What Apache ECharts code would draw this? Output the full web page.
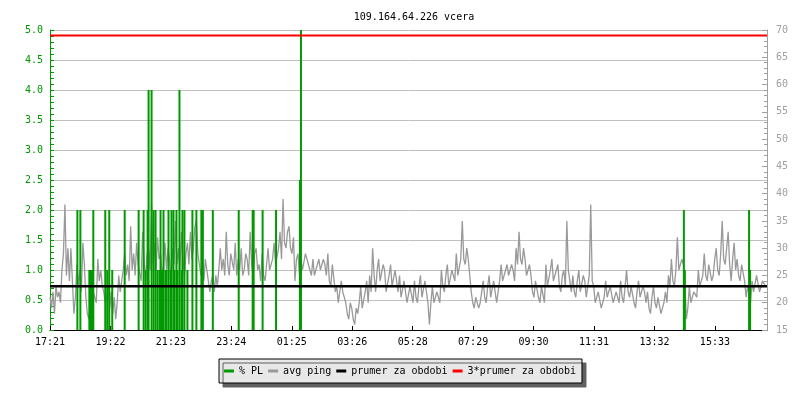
<!DOCTYPE html>
<html>
<head>
<meta charset="utf-8">
<script src="https://cdn.jsdelivr.net/npm/echarts@6/dist/echarts.min.js"></script>
<style>html,body{margin:0;padding:0;background:#fff}#c{width:800px;height:400px}</style>
</head>
<body>
<div id="c"></div>
<script>
const chartTitle = '109.164.64.226 vcera';
const timeLabels = ['17:21','19:22','21:23','23:24','01:25','03:26','05:28','07:29','09:30','11:31','13:32','15:33'];
const tickStepMin = 121.4;
const spanMin = 1440;
const pingStepMin = 3;
const avgPing = [
  21,19,22,18, 23,21,22,20, 26,29, 38,25,30,24, 30,24, 18,21, 27,23,26,22, 31,27,
  21,18,17,20,19,22, 22,20, 28,24,26,23, 22,20,21,23, 19,22,18,21,17,20, 25,22,24,26,
  29,25,27,24, 34,26,29,25,31,27, 27,24,33,28,24,29,30,26, 38,27,31,26,32,28,
  29,25,27,31,26,30,28,24,30,27, 35,27,30,26,33,28,25,29,31,27, 33,28,30,34,35,29,
  29,25,27,24,28,26, 26,22,24,25,22,25,23,26, 30,26,28,25,33,27,25,29,29,26,
  31,25,28,26,30,25,26,29, 28,25,33,27,25,29,30,26,27,24, 29,25,24,27,30,26,26,28,
  31,27,27,30,33,28,39,31,30,33, 34,30,29,32, 24,28,29,25, 28,26,26,29,29,27,27,25,
  28,25,25,27,28,26,26,28,27,25, 29,24,23,27,27,22, 23,20,20,24,22,21,
  20,18,17,20,19,17,16,19,18,20, 23,19,19,22,24,20, 25,22,30,25,22,26,28,24,24,27,
  26,22,22,25,27,23,23,26,26,22, 25,21,21,24,24,20,20,23, 23,20,
  24,21,20,23,25,21,21,24,24,20,16,20, 23,20,20,22,22,20, 26,23,22,25,27,23,23,26,26,24,
  29,25,25,28, 35,28,27,30, 28,25, 22,20,19,21,21,19,20,22,
  24,21,20,23,25,21,21,24,24,20,22,24, 27,24,24,26,27,25,25,27,26,24,
  30,27,33,28,27,30, 28,25,25,27, 25,22,21,24,24,21,20,23,23,20,
  27,23,23,26,28,24,24,26,27,23,22,25,26,23, 35,26,24,22,
  25,22,21,24,26,22,22,25,24,21,23,25, 38,24,
  23,20,20,22,22,19,19,21,24,21,21,23,23,20,20,22,22,20,
  24,21,20,23,26,22,21,23,23,20,19,22,24,21,21,23,22,20,
  22,19,18,21,23,20,19,21,21,18,18,20,22,20,
  25,23,28,24,23,26,32,26,26,28,27,24, 17,19, 23,20,20,22,22,21,
  26,23,23,25,29,25,24,27,27,24,25,28,
  30,26,25,29,35,28,27,30,33,27,24,28,31,26, 28,25,24,27,27,24, 21,23,23,20,
  24,22,22,25,25,22,22,24,24,23
];
const plMinutes = [55,61,79,81,83,85,87,111,115,119,125,150,178,188,192,196,198,204,208,212,
  216,220,222,224,226,228,232,234,238,242,244,248,250,254,256,260,264,266,270,276,
  286,294,304,307,327,379,407,409,427,454,502,504,1273,1275,1404,1406];
const plValues = [2,2,1,1,1,1,2,2,1,2,1,2,2,2,1,2,4,4,2,2,
  1,1,2,1,1,2,1,1,2,1,2,2,1,2,1,4,1,2,2,1,
  2,2,2,2,2,2,2,2,2,2,2.5,5,2,1,2,1];
const meanPing = 23.0;
const legendNames = ['% PL','avg ping','prumer za obdobi','3*prumer za obdobi'];

const FONT = 'DejaVu Sans Mono';
const pingData = avgPing.map((v, i) => [i * pingStepMin, v]);
const plData = plMinutes.map((m, i) => [m, plValues[i]]);

const chart = echarts.init(document.getElementById('c'), null, {renderer: 'canvas'});
chart.setOption({
  backgroundColor: '#ffffff',
  animation: false,
  title: {
    text: chartTitle, left: 409, top: 7, textAlign: 'center',
    textStyle: {fontFamily: FONT, fontSize: 10, fontWeight: 'normal', color: '#000'}
  },
  legend: {
    data: legendNames.map(n => ({name: n, icon: 'rect'})),
    left: 'center', top: 359, itemWidth: 10, itemHeight: 3, itemGap: 5,
    padding: [6, 6, 6, 5],
    backgroundColor: '#e8e8e8', borderColor: '#000', borderWidth: 1,
    shadowColor: '#606060', shadowBlur: 0, shadowOffsetX: 4, shadowOffsetY: 4,
    textStyle: {fontFamily: FONT, fontSize: 10, color: '#000', lineHeight: 12},
    selectedMode: false
  },
  grid: {left: 50, right: 33, top: 30, bottom: 70},
  xAxis: {
    type: 'value', min: 0, max: spanMin, interval: tickStepMin,
    axisLine: {show: true, lineStyle: {color: '#000', width: 1}},
    axisTick: {show: true, inside: true, length: 4, lineStyle: {color: '#000'}},
    splitLine: {show: false},
    axisLabel: {
      fontFamily: FONT, fontSize: 10, color: '#000', margin: 7, showMaxLabel: false,
      formatter: v => {
        const idx = Math.round(v / tickStepMin);
        if (Math.abs(v - idx * tickStepMin) < 0.5 && idx < timeLabels.length) return timeLabels[idx];
        return '';
      }
    }
  },
  yAxis: [{
    type: 'value', min: 0, max: 5, interval: 0.5, position: 'left',
    axisLine: {show: true, lineStyle: {color: '#009900'}},
    axisTick: {show: true, inside: true, length: 4, lineStyle: {color: '#009900'}},
    minorTick: {show: true, splitNumber: 5, length: 4, lineStyle: {color: '#009900'}},
    splitLine: {show: true, lineStyle: {color: '#c0c0c0', width: 1}},
    axisLabel: {fontFamily: FONT, fontSize: 10, color: '#009900', margin: 7, formatter: v => v.toFixed(1)}
  }, {
    type: 'value', min: 15, max: 70, interval: 5, position: 'right',
    axisLine: {show: true, lineStyle: {color: '#a0a0a0'}},
    axisTick: {show: true, inside: true, length: 5, lineStyle: {color: '#a0a0a0'}},
    minorTick: {show: true, splitNumber: 5, length: 3, lineStyle: {color: '#a0a0a0'}},
    splitLine: {show: false},
    axisLabel: {fontFamily: FONT, fontSize: 10, color: '#a0a0a0', margin: 9}
  }],
  series: [{
    name: 'avg ping', type: 'line', yAxisIndex: 1, data: pingData,
    showSymbol: false, symbol: 'none', z: 2,
    lineStyle: {color: '#999999', width: 1.3}, itemStyle: {color: '#999999'}
  }, {
    name: '% PL', type: 'bar', yAxisIndex: 0, data: plData, barWidth: 2, z: 3,
    itemStyle: {color: '#009900'}
  }, {
    name: 'prumer za obdobi', type: 'line', yAxisIndex: 1, z: 4,
    data: [[0, meanPing], [spanMin, meanPing]], showSymbol: false, symbol: 'none',
    lineStyle: {color: '#000', width: 2.5}, itemStyle: {color: '#000'}
  }, {
    name: '3*prumer za obdobi', type: 'line', yAxisIndex: 1, z: 4,
    data: [[0, 3 * meanPing], [spanMin, 3 * meanPing]], showSymbol: false, symbol: 'none',
    lineStyle: {color: '#ff0000', width: 2}, itemStyle: {color: '#ff0000'}
  }]
});
</script>
</body>
</html>
